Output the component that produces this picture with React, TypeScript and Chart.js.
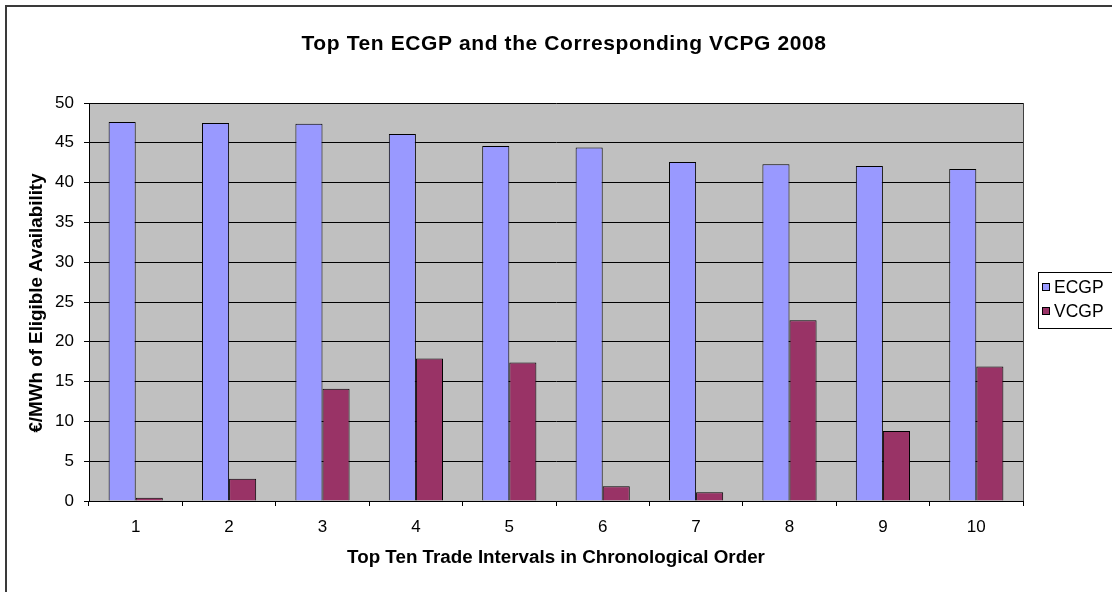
import React, { useEffect, useRef } from "react";
import { Chart, registerables } from "chart.js";

Chart.register(...registerables);

const categories = ["1", "2", "3", "4", "5", "6", "7", "8", "9", "10"];
const ecgpValues = [47.6, 47.5, 47.4, 46.1, 44.6, 44.4, 42.6, 42.3, 42.1, 41.7];
const vcgpValues = [0.4, 2.8, 14.1, 17.9, 17.4, 1.85, 1.1, 22.7, 8.8, 16.9];
const seriesNames = ["ECGP", "VCGP"];
const seriesColors = ["#9999FF", "#993366"];
const chartTitle = "Top Ten ECGP and the Corresponding VCPG 2008";
const xAxisTitle = "Top Ten Trade Intervals in Chronological Order";
const yAxisTitle = "€/MWh of Eligible Availability";
const yMin = 0;
const yMax = 50;
const yStep = 5;

const FONT = "'Liberation Sans', Arial, Helvetica, sans-serif";

export default function App() {
  const ref = useRef<HTMLCanvasElement | null>(null);

  useEffect(() => {
    document.body.style.margin = "0";
    const canvas = ref.current;
    if (!canvas) return;

    const decor = {
      id: "decor",
      beforeDraw(chart: any) {
        const { ctx, chartArea } = chart;
        ctx.save();
        ctx.fillStyle = "#FFFFFF";
        ctx.fillRect(0, 0, chart.width, chart.height);
        ctx.fillStyle = "#C0C0C0";
        ctx.fillRect(
          chartArea.left,
          chartArea.top,
          chartArea.right - chartArea.left,
          chartArea.bottom - chartArea.top
        );
        ctx.restore();
      },
      afterDraw(chart: any) {
        const { ctx, chartArea } = chart;
        ctx.save();
        // outer frame
        ctx.strokeStyle = "#3a3a3a";
        ctx.lineWidth = 2;
        ctx.strokeRect(6, 6, 1300, 1300);
        // plot area right edge
        ctx.strokeStyle = "#404040";
        ctx.lineWidth = 1;
        ctx.beginPath();
        ctx.moveTo(Math.round(chartArea.right) + 0.5, chartArea.top);
        ctx.lineTo(Math.round(chartArea.right) + 0.5, chartArea.bottom);
        ctx.stroke();

        ctx.fillStyle = "#000000";
        // title
        ctx.font = `bold 21px ${FONT}`;
        (ctx as any).letterSpacing = "0.6px";
        ctx.textAlign = "center";
        ctx.textBaseline = "middle";
        ctx.fillText(chartTitle, 564, 44);
        (ctx as any).letterSpacing = "0px";
        // x title
        ctx.font = `bold 18.8px ${FONT}`;
        ctx.fillText(xAxisTitle, (chartArea.left + chartArea.right) / 2, 558);
        // y title
        ctx.save();
        ctx.translate(37, 303);
        ctx.rotate(-Math.PI / 2);
        ctx.fillText(yAxisTitle, 0, 0);
        ctx.restore();

        // legend
        const lx = 1038.5;
        const ly = 272.5;
        ctx.strokeStyle = "#000000";
        ctx.lineWidth = 1;
        ctx.strokeRect(lx, ly, 120, 56);
        ctx.font = `17.5px ${FONT}`;
        ctx.textAlign = "left";
        chart.data.datasets.forEach((ds: any, i: number) => {
          const cy = 287 + i * 24;
          ctx.fillStyle = ds.backgroundColor;
          ctx.fillRect(1042, cy - 4, 8, 8);
          ctx.strokeRect(1042.5, cy - 3.5, 7, 7);
          ctx.fillStyle = "#000000";
          ctx.fillText(ds.label, 1054, cy + 1);
        });
        ctx.restore();
      },
    };

    const chart = new Chart(canvas, {
      type: "bar",
      data: {
        labels: categories,
        datasets: [
          {
            label: seriesNames[0],
            data: ecgpValues,
            backgroundColor: seriesColors[0],
            borderColor: "#000000",
            borderWidth: 1,
            categoryPercentage: 0.58,
            barPercentage: 1,
          },
          {
            label: seriesNames[1],
            data: vcgpValues,
            backgroundColor: seriesColors[1],
            borderColor: "#000000",
            borderWidth: 1,
            categoryPercentage: 0.58,
            barPercentage: 1,
          },
        ],
      },
      options: {
        responsive: false,
        animation: false,
        devicePixelRatio: 1,
        layout: { padding: { left: 0, top: 103, right: 89, bottom: 0 } },
        plugins: {
          legend: { display: false },
          title: { display: false },
          tooltip: { enabled: false },
        },
        scales: {
          x: {
            offset: true,
            grid: {
              display: true,
              drawOnChartArea: false,
              drawTicks: true,
              tickLength: 5,
              color: "#000000",
              offset: true,
            },
            border: { display: true, color: "#000000", width: 1 },
            ticks: {
              color: "#000000",
              padding: 11,
              font: { family: FONT, size: 17 },
              maxRotation: 0,
              autoSkip: false,
            },
            afterFit(scale: any) {
              scale.height = 91;
            },
          },
          y: {
            min: yMin,
            max: yMax,
            grid: {
              color: "#000000",
              lineWidth: 1,
              drawTicks: true,
              tickLength: 5,
            },
            border: { display: true, color: "#000000", width: 1 },
            ticks: {
              stepSize: yStep,
              color: "#000000",
              padding: 10,
              font: { family: FONT, size: 17 },
            },
            afterFit(scale: any) {
              scale.width = 89;
            },
          },
        },
      },
      plugins: [decor],
    });

    return () => {
      chart.destroy();
    };
  }, []);

  return (
    <div style={{ width: 1112, height: 592, overflow: "hidden" }}>
      <canvas ref={ref} width={1112} height={592} style={{ display: "block" }} />
    </div>
  );
}
